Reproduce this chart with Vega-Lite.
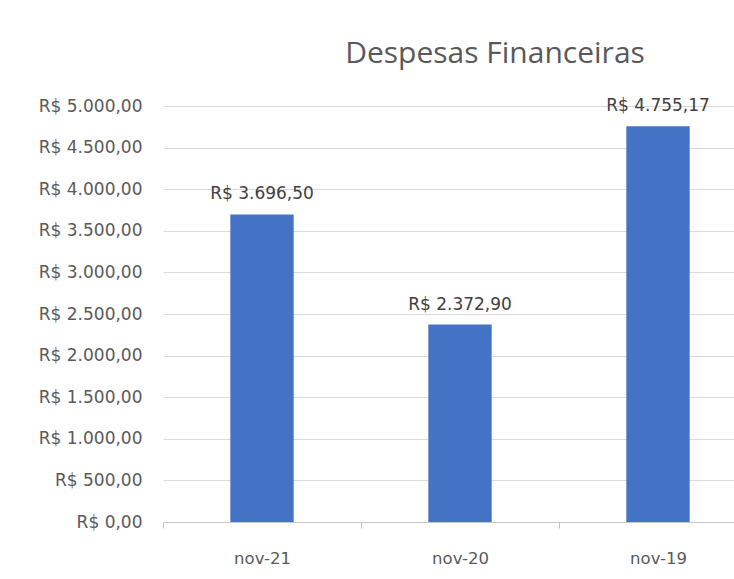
{
  "$schema": "https://vega.github.io/schema/vega-lite/v6.json",
  "autosize": {"type": "none"},
  "padding": {"left": 163, "top": 106, "right": -23, "bottom": 50},
  "width": 594,
  "height": 416,
  "background": "white",
  "title": {
    "text": "Despesas Financeiras",
    "font": "Open Sans",
    "fontSize": 30,
    "fontWeight": "normal",
    "color": "#595959",
    "anchor": "middle",
    "dx": 35,
    "offset": 28
  },
  "data": {
    "values": [
      {"mes": "nov-21", "valor": 3696.50},
      {"mes": "nov-20", "valor": 2372.90},
      {"mes": "nov-19", "valor": 4755.17}
    ]
  },
  "encoding": {
    "x": {
      "field": "mes",
      "type": "nominal",
      "sort": null,
      "scale": {"paddingInner": 0, "paddingOuter": 0},
      "axis": {
        "title": null,
        "labelAngle": 0,
        "labelFont": "DejaVu Sans",
        "labelFontSize": 16.5,
        "labelColor": "#595959",
        "labelPadding": 22,
        "tickBand": "extent",
        "ticks": true,
        "tickSize": 6,
        "tickColor": "#bfbfbf",
        "domainColor": "#c8c8c8",
        "grid": false
      }
    },
    "y": {
      "field": "valor",
      "type": "quantitative",
      "scale": {"domain": [0, 5000], "nice": false},
      "axis": {
        "title": null,
        "values": [0, 500, 1000, 1500, 2000, 2500, 3000, 3500, 4000, 4500, 5000],
        "format": "$,.2f",
        "labelFont": "DejaVu Sans",
        "labelFontSize": 17,
        "labelColor": "#595959",
        "labelPadding": 21,
        "ticks": false,
        "domain": false,
        "grid": true,
        "gridColor": "#d9d9d9"
      }
    }
  },
  "layer": [
    {
      "mark": {"type": "bar", "color": "#4472C4", "width": {"band": 0.32}}
    },
    {
      "mark": {
        "type": "text",
        "font": "DejaVu Sans",
        "fontSize": 17,
        "color": "#404040",
        "align": "center",
        "baseline": "alphabetic",
        "dy": -15
      },
      "encoding": {
        "text": {"field": "valor", "type": "quantitative", "format": "$,.2f"}
      }
    }
  ],
  "config": {
    "locale": {
      "number": {
        "decimal": ",",
        "thousands": ".",
        "grouping": [3],
        "currency": ["R$ ", ""]
      }
    },
    "view": {"stroke": null}
  }
}
